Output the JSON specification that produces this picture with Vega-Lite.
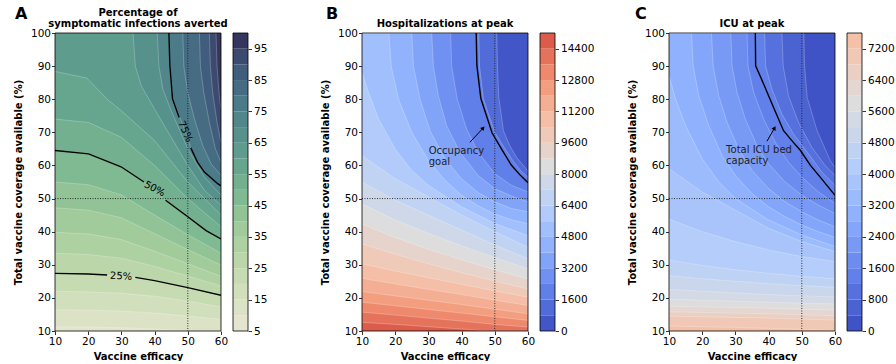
{
"$schema":"https://vega.github.io/schema/vega-lite/v6.json",
"padding":{"left":0,"top":6,"right":0,"bottom":0},
"bounds":"flush",
"spacing":12,
"resolve":{"scale":{"color":"independent","x":"independent","y":"independent"}},
"config":{
 "font":"DejaVu Sans",
 "view":{"stroke":null},
 "axis":{"labelFontSize":10.5,"labelColor":"#000","tickColor":"#000","tickSize":3.5,"tickWidth":0.8,"domain":false,"grid":false,"titleFontSize":10,"titleFontWeight":"bold","titleColor":"#000","labelFont":"DejaVu Sans","titleFont":"DejaVu Sans","labelOverlap":false,"labelFlush":false,"format":"d","tickCount":30},
 "title":{"fontSize":10,"fontWeight":"bold","color":"#000","font":"DejaVu Sans"}
},
"datasets":{
 "A_lines":[
  {"lev":5,"x":10,"y":10},{"lev":5,"x":60,"y":10},
  {"lev":10,"x":10,"y":11.3},{"lev":10,"x":20,"y":11.2},{"lev":10,"x":30,"y":11},{"lev":10,"x":40,"y":10.6},{"lev":10,"x":50,"y":10.2},{"lev":10,"x":60,"y":10.05},
  {"lev":15,"x":10,"y":16.4},{"lev":15,"x":20,"y":16.3},{"lev":15,"x":30,"y":16},{"lev":15,"x":40,"y":15.4},{"lev":15,"x":50,"y":14.5},{"lev":15,"x":60,"y":13.5},
  {"lev":20,"x":10,"y":22},{"lev":20,"x":20,"y":21.8},{"lev":20,"x":30,"y":21.4},{"lev":20,"x":40,"y":20.5},{"lev":20,"x":50,"y":19},{"lev":20,"x":60,"y":17.3},
  {"lev":25,"x":10,"y":27.4},{"lev":25,"x":20,"y":27.2},{"lev":25,"x":30,"y":26.6},{"lev":25,"x":40,"y":25.2},{"lev":25,"x":50,"y":23.1},{"lev":25,"x":60,"y":20.8},
  {"lev":30,"x":10,"y":33.5},{"lev":30,"x":20,"y":33.1},{"lev":30,"x":30,"y":32},{"lev":30,"x":40,"y":29.5},{"lev":30,"x":50,"y":26.6},{"lev":30,"x":60,"y":23.6},
  {"lev":35,"x":10,"y":39.8},{"lev":35,"x":20,"y":39.3},{"lev":35,"x":30,"y":37.6},{"lev":35,"x":40,"y":34.1},{"lev":35,"x":50,"y":30.3},{"lev":35,"x":60,"y":26.5},
  {"lev":40,"x":10,"y":47.2},{"lev":40,"x":20,"y":46.5},{"lev":40,"x":30,"y":44.2},{"lev":40,"x":40,"y":39.4},{"lev":40,"x":50,"y":34.6},{"lev":40,"x":60,"y":29.9},
  {"lev":45,"x":10,"y":55},{"lev":45,"x":20,"y":54.2},{"lev":45,"x":30,"y":51.1},{"lev":45,"x":40,"y":45},{"lev":45,"x":50,"y":39.1},{"lev":45,"x":60,"y":33.5},
  {"lev":50,"x":10,"y":64.5},{"lev":50,"x":20.1,"y":63.5},{"lev":50,"x":29.9,"y":59.6},{"lev":50,"x":36.8,"y":55},{"lev":50,"x":43.3,"y":49.5},{"lev":50,"x":50,"y":44.5},{"lev":50,"x":55.5,"y":40.3},{"lev":50,"x":60,"y":37.8},
  {"lev":55,"x":10,"y":74},{"lev":55,"x":20,"y":73},{"lev":55,"x":30,"y":68.5},{"lev":55,"x":40,"y":60},{"lev":55,"x":50,"y":50},{"lev":55,"x":60,"y":41.5},
  {"lev":60,"x":10,"y":88.4},{"lev":60,"x":19.6,"y":86.4},{"lev":60,"x":25.7,"y":80},{"lev":60,"x":30,"y":76.5},{"lev":60,"x":40,"y":67.5},{"lev":60,"x":50,"y":55},{"lev":60,"x":60,"y":45},
  {"lev":65,"x":33.5,"y":100},{"lev":65,"x":34.2,"y":90},{"lev":65,"x":36,"y":84},{"lev":65,"x":40,"y":77},{"lev":65,"x":45,"y":68.5},{"lev":65,"x":50,"y":60},{"lev":65,"x":55,"y":52.5},{"lev":65,"x":60,"y":48},
  {"lev":70,"x":40.8,"y":100},{"lev":70,"x":41.3,"y":90},{"lev":70,"x":42.5,"y":83},{"lev":70,"x":45,"y":76.5},{"lev":70,"x":50,"y":65},{"lev":70,"x":55,"y":56.5},{"lev":70,"x":60,"y":51},
  {"lev":75,"x":44.3,"y":100},{"lev":75,"x":44.6,"y":90.2},{"lev":75,"x":45.4,"y":80.1},{"lev":75,"x":47.4,"y":75},{"lev":75,"x":49.2,"y":70.5},{"lev":75,"x":50.9,"y":65.3},{"lev":75,"x":52.9,"y":61},{"lev":75,"x":55,"y":58},{"lev":75,"x":59,"y":54.5},{"lev":75,"x":60,"y":53.8},
  {"lev":80,"x":48.5,"y":100},{"lev":80,"x":48.8,"y":90},{"lev":80,"x":50,"y":82},{"lev":80,"x":52,"y":74},{"lev":80,"x":54.5,"y":66},{"lev":80,"x":57,"y":60.5},{"lev":80,"x":60,"y":57},
  {"lev":85,"x":53.5,"y":100},{"lev":85,"x":53.8,"y":90},{"lev":85,"x":54.8,"y":82},{"lev":85,"x":56.5,"y":73},{"lev":85,"x":58.3,"y":65},{"lev":85,"x":60,"y":61},
  {"lev":90,"x":56.5,"y":100},{"lev":90,"x":56.8,"y":90},{"lev":90,"x":57.5,"y":82},{"lev":90,"x":58.8,"y":73},{"lev":90,"x":60,"y":67},
  {"lev":95,"x":58.5,"y":100},{"lev":95,"x":58.8,"y":90},{"lev":95,"x":59.4,"y":82},{"lev":95,"x":60,"y":77}
 ],
 "A_black":[
  {"seg":"a1","x":10,"y":27.4},{"seg":"a1","x":20,"y":27.2},{"seg":"a1","x":25.7,"y":26.9},
  {"seg":"a2","x":34.2,"y":26.2},{"seg":"a2","x":40,"y":25.2},{"seg":"a2","x":50,"y":23.1},{"seg":"a2","x":60,"y":20.8},
  {"seg":"b1","x":10,"y":64.5},{"seg":"b1","x":20.1,"y":63.5},{"seg":"b1","x":29.9,"y":59.6},{"seg":"b1","x":36.8,"y":55},
  {"seg":"b2","x":43.3,"y":49.5},{"seg":"b2","x":50,"y":44.5},{"seg":"b2","x":55.5,"y":40.3},{"seg":"b2","x":60,"y":37.8},
  {"seg":"c1","x":44.3,"y":100},{"seg":"c1","x":44.6,"y":90.2},{"seg":"c1","x":45.4,"y":80.1},{"seg":"c1","x":47.4,"y":74.5},
  {"seg":"c2","x":50.9,"y":65.3},{"seg":"c2","x":52.9,"y":61},{"seg":"c2","x":55,"y":58},{"seg":"c2","x":59,"y":54.5},{"seg":"c2","x":60,"y":53.8}
 ],
 "A_lab":[{"t":"25%","x":29.9,"y":26.5},{"t":"50%","x":40,"y":52.9},{"t":"75%","x":49.2,"y":70.2}],
 "A_cb":[
  {"lo":5,"hi":10},{"lo":10,"hi":15},{"lo":15,"hi":20},{"lo":20,"hi":25},{"lo":25,"hi":30},{"lo":30,"hi":35},{"lo":35,"hi":40},{"lo":40,"hi":45},{"lo":45,"hi":50},{"lo":50,"hi":55},
  {"lo":55,"hi":60},{"lo":60,"hi":65},{"lo":65,"hi":70},{"lo":70,"hi":75},{"lo":75,"hi":80},{"lo":80,"hi":85},{"lo":85,"hi":90},{"lo":90,"hi":95},{"lo":95,"hi":100}
 ],
 "B_lines":[
  {"lev":0,"x":10,"y":100},{"lev":0,"x":60,"y":100},
  {"lev":800,"x":10,"y":100},{"lev":800,"x":50.6,"y":100},{"lev":800,"x":50.8,"y":90},{"lev":800,"x":51.2,"y":80.6},{"lev":800,"x":52.6,"y":70.5},{"lev":800,"x":54.5,"y":66},{"lev":800,"x":56.6,"y":62.4},{"lev":800,"x":60,"y":58.3},
  {"lev":1600,"x":10,"y":100},{"lev":1600,"x":45.2,"y":100},{"lev":1600,"x":45.4,"y":90},{"lev":1600,"x":46.6,"y":80},{"lev":1600,"x":48.3,"y":75},{"lev":1600,"x":50,"y":70},{"lev":1600,"x":52.8,"y":65.5},{"lev":1600,"x":55.6,"y":61.2},{"lev":1600,"x":58,"y":58.2},{"lev":1600,"x":60,"y":56.5},
  {"lev":2400,"x":10,"y":100},{"lev":2400,"x":36.7,"y":100},{"lev":2400,"x":37,"y":90},{"lev":2400,"x":38.7,"y":80},{"lev":2400,"x":41.5,"y":71},{"lev":2400,"x":45,"y":64},{"lev":2400,"x":50,"y":57.5},{"lev":2400,"x":55,"y":54},{"lev":2400,"x":60,"y":52},
  {"lev":3200,"x":10,"y":100},{"lev":3200,"x":31,"y":100},{"lev":3200,"x":31.5,"y":90},{"lev":3200,"x":33,"y":81},{"lev":3200,"x":35.5,"y":72},{"lev":3200,"x":39.5,"y":64},{"lev":3200,"x":45,"y":57},{"lev":3200,"x":50,"y":53},{"lev":3200,"x":55,"y":50.8},{"lev":3200,"x":60,"y":49},
  {"lev":4000,"x":10,"y":100},{"lev":4000,"x":25,"y":100},{"lev":4000,"x":25.5,"y":90},{"lev":4000,"x":27.5,"y":80},{"lev":4000,"x":30.5,"y":70.5},{"lev":4000,"x":35,"y":62},{"lev":4000,"x":40,"y":56},{"lev":4000,"x":45,"y":51.8},{"lev":4000,"x":50,"y":49},{"lev":4000,"x":55,"y":47},{"lev":4000,"x":60,"y":46},
  {"lev":4800,"x":10,"y":100},{"lev":4800,"x":18.1,"y":100},{"lev":4800,"x":18.8,"y":90},{"lev":4800,"x":21,"y":80},{"lev":4800,"x":25,"y":70},{"lev":4800,"x":30,"y":61.5},{"lev":4800,"x":35,"y":55.5},{"lev":4800,"x":40,"y":51},{"lev":4800,"x":45,"y":47.8},{"lev":4800,"x":50,"y":45.3},{"lev":4800,"x":55,"y":43.6},{"lev":4800,"x":60,"y":42.4},
  {"lev":5600,"x":10,"y":88},{"lev":5600,"x":12,"y":82},{"lev":5600,"x":15,"y":74},{"lev":5600,"x":20,"y":65},{"lev":5600,"x":25,"y":58.5},{"lev":5600,"x":30,"y":54},{"lev":5600,"x":40,"y":47.5},{"lev":5600,"x":50,"y":42.5},{"lev":5600,"x":60,"y":38.8},
  {"lev":6400,"x":10,"y":63},{"lev":6400,"x":20,"y":56},{"lev":6400,"x":30,"y":50.5},{"lev":6400,"x":40,"y":45},{"lev":6400,"x":50,"y":40},{"lev":6400,"x":60,"y":35.3},
  {"lev":7200,"x":10,"y":55},{"lev":7200,"x":20,"y":49.5},{"lev":7200,"x":30,"y":45},{"lev":7200,"x":40,"y":40.5},{"lev":7200,"x":50,"y":36},{"lev":7200,"x":60,"y":31.8},
  {"lev":8000,"x":10,"y":48.4},{"lev":8000,"x":20,"y":43.5},{"lev":8000,"x":30,"y":39.5},{"lev":8000,"x":40,"y":35.7},{"lev":8000,"x":50,"y":32.2},{"lev":8000,"x":60,"y":28.8},
  {"lev":8800,"x":10,"y":42.3},{"lev":8800,"x":20,"y":38.2},{"lev":8800,"x":30,"y":34.7},{"lev":8800,"x":40,"y":31.5},{"lev":8800,"x":50,"y":28.5},{"lev":8800,"x":60,"y":25.7},
  {"lev":9600,"x":10,"y":36.3},{"lev":9600,"x":20,"y":33.2},{"lev":9600,"x":30,"y":30.3},{"lev":9600,"x":40,"y":27.6},{"lev":9600,"x":50,"y":25.1},{"lev":9600,"x":60,"y":22.7},
  {"lev":10400,"x":10,"y":30.3},{"lev":10400,"x":20,"y":28.1},{"lev":10400,"x":30,"y":26.1},{"lev":10400,"x":40,"y":24.1},{"lev":10400,"x":50,"y":22.1},{"lev":10400,"x":60,"y":20.2},
  {"lev":11200,"x":10,"y":25.9},{"lev":11200,"x":20,"y":24.2},{"lev":11200,"x":30,"y":22.6},{"lev":11200,"x":40,"y":21},{"lev":11200,"x":50,"y":19.3},{"lev":11200,"x":60,"y":17.7},
  {"lev":12000,"x":10,"y":21.9},{"lev":12000,"x":20,"y":20.6},{"lev":12000,"x":30,"y":19.3},{"lev":12000,"x":40,"y":18},{"lev":12000,"x":50,"y":16.6},{"lev":12000,"x":60,"y":15.2},
  {"lev":12800,"x":10,"y":18.7},{"lev":12800,"x":20,"y":17.6},{"lev":12800,"x":30,"y":16.5},{"lev":12800,"x":40,"y":15.4},{"lev":12800,"x":50,"y":14.3},{"lev":12800,"x":60,"y":13.2},
  {"lev":13600,"x":10,"y":15.7},{"lev":13600,"x":20,"y":14.8},{"lev":13600,"x":30,"y":13.9},{"lev":13600,"x":40,"y":13},{"lev":13600,"x":50,"y":12},{"lev":13600,"x":60,"y":11.2},
  {"lev":14400,"x":10,"y":12.6},{"lev":14400,"x":20,"y":12},{"lev":14400,"x":30,"y":11.3},{"lev":14400,"x":40,"y":10.6},{"lev":14400,"x":48,"y":10},{"lev":14400,"x":60,"y":10}
 ],
 "B_black":[{"x":44.4,"y":100},{"x":44.6,"y":90.2},{"x":45.8,"y":80.2},{"x":47.5,"y":75},{"x":49.2,"y":69.8},{"x":52,"y":65},{"x":54.9,"y":60.2},{"x":57.7,"y":57},{"x":60,"y":54.8}],
 "B_note":[{"t":"Occupancy\ngoal","x":30.1,"y":66}],
 "B_arrow":[{"tx":42.5,"ty":67,"hx":46.5,"hy":71.3}],
 "B_cb":[
  {"lo":0,"hi":800},{"lo":800,"hi":1600},{"lo":1600,"hi":2400},{"lo":2400,"hi":3200},{"lo":3200,"hi":4000},{"lo":4000,"hi":4800},{"lo":4800,"hi":5600},{"lo":5600,"hi":6400},{"lo":6400,"hi":7200},{"lo":7200,"hi":8000},
  {"lo":8000,"hi":8800},{"lo":8800,"hi":9600},{"lo":9600,"hi":10400},{"lo":10400,"hi":11200},{"lo":11200,"hi":12000},{"lo":12000,"hi":12800},{"lo":12800,"hi":13600},{"lo":13600,"hi":14400},{"lo":14400,"hi":15200}
 ],
 "C_lines":[
  {"lev":0,"x":10,"y":100},{"lev":0,"x":60,"y":100},
  {"lev":400,"x":10,"y":100},{"lev":400,"x":50.6,"y":100},{"lev":400,"x":50.8,"y":90.6},{"lev":400,"x":51.6,"y":80.6},{"lev":400,"x":54.6,"y":70.5},{"lev":400,"x":58.6,"y":61.4},{"lev":400,"x":60,"y":59.4},
  {"lev":800,"x":10,"y":100},{"lev":800,"x":44,"y":100},{"lev":800,"x":44.4,"y":90},{"lev":800,"x":46,"y":81},{"lev":800,"x":49,"y":73},{"lev":800,"x":53,"y":65.5},{"lev":800,"x":57,"y":60},{"lev":800,"x":60,"y":57},
  {"lev":1200,"x":10,"y":100},{"lev":1200,"x":38.8,"y":100},{"lev":1200,"x":39.1,"y":90},{"lev":1200,"x":41,"y":83},{"lev":1200,"x":44,"y":75.5},{"lev":1200,"x":47.5,"y":69.5},{"lev":1200,"x":52,"y":63.5},{"lev":1200,"x":56,"y":58},{"lev":1200,"x":60,"y":54},
  {"lev":1600,"x":10,"y":100},{"lev":1600,"x":33.5,"y":100},{"lev":1600,"x":33.8,"y":90},{"lev":1600,"x":35.5,"y":82},{"lev":1600,"x":38.5,"y":74},{"lev":1600,"x":42,"y":67},{"lev":1600,"x":46,"y":61},{"lev":1600,"x":50,"y":56.5},{"lev":1600,"x":55,"y":52},{"lev":1600,"x":60,"y":48.5},
  {"lev":2000,"x":10,"y":100},{"lev":2000,"x":28.6,"y":100},{"lev":2000,"x":29,"y":90},{"lev":2000,"x":30.5,"y":82},{"lev":2000,"x":33,"y":74},{"lev":2000,"x":36.5,"y":66},{"lev":2000,"x":40,"y":60.5},{"lev":2000,"x":45,"y":55},{"lev":2000,"x":50,"y":51},{"lev":2000,"x":55,"y":48},{"lev":2000,"x":60,"y":45.5},
  {"lev":2400,"x":10,"y":100},{"lev":2400,"x":22.8,"y":100},{"lev":2400,"x":23.3,"y":90},{"lev":2400,"x":25,"y":81},{"lev":2400,"x":27.5,"y":73},{"lev":2400,"x":31,"y":65},{"lev":2400,"x":35,"y":58.5},{"lev":2400,"x":40,"y":53},{"lev":2400,"x":45,"y":49},{"lev":2400,"x":50,"y":46},{"lev":2400,"x":55,"y":43.5},{"lev":2400,"x":60,"y":41.5},
  {"lev":2800,"x":10,"y":100},{"lev":2800,"x":16.8,"y":100},{"lev":2800,"x":17.3,"y":90},{"lev":2800,"x":19,"y":81},{"lev":2800,"x":22,"y":72},{"lev":2800,"x":26,"y":63},{"lev":2800,"x":30,"y":57},{"lev":2800,"x":35,"y":51.5},{"lev":2800,"x":40,"y":47.5},{"lev":2800,"x":45,"y":44.5},{"lev":2800,"x":50,"y":42},{"lev":2800,"x":55,"y":40},{"lev":2800,"x":60,"y":38.3},
  {"lev":3200,"x":10,"y":87},{"lev":3200,"x":12,"y":80},{"lev":3200,"x":15,"y":72},{"lev":3200,"x":20,"y":62},{"lev":3200,"x":25,"y":55},{"lev":3200,"x":30,"y":50},{"lev":3200,"x":40,"y":43.5},{"lev":3200,"x":50,"y":39},{"lev":3200,"x":60,"y":35.5},
  {"lev":3600,"x":10,"y":59},{"lev":3600,"x":20,"y":52},{"lev":3600,"x":30,"y":46.5},{"lev":3600,"x":40,"y":41},{"lev":3600,"x":50,"y":37},{"lev":3600,"x":60,"y":34},
  {"lev":4000,"x":10,"y":43.8},{"lev":4000,"x":20,"y":40},{"lev":4000,"x":30,"y":37},{"lev":4000,"x":40,"y":34.5},{"lev":4000,"x":50,"y":32.5},{"lev":4000,"x":60,"y":31},
  {"lev":4400,"x":10,"y":31.4},{"lev":4400,"x":20,"y":29.8},{"lev":4400,"x":30,"y":28.5},{"lev":4400,"x":40,"y":27.4},{"lev":4400,"x":50,"y":26.5},{"lev":4400,"x":60,"y":25.8},
  {"lev":4800,"x":10,"y":26.7},{"lev":4800,"x":20,"y":25.8},{"lev":4800,"x":30,"y":25},{"lev":4800,"x":40,"y":24.3},{"lev":4800,"x":50,"y":23.7},{"lev":4800,"x":60,"y":23.2},
  {"lev":5200,"x":10,"y":22.6},{"lev":5200,"x":20,"y":22},{"lev":5200,"x":30,"y":21.5},{"lev":5200,"x":40,"y":21},{"lev":5200,"x":50,"y":20.6},{"lev":5200,"x":60,"y":20.3},
  {"lev":5600,"x":10,"y":19.6},{"lev":5600,"x":20,"y":19.3},{"lev":5600,"x":30,"y":19},{"lev":5600,"x":40,"y":18.7},{"lev":5600,"x":50,"y":18.4},{"lev":5600,"x":60,"y":18.2},
  {"lev":6000,"x":10,"y":17.5},{"lev":6000,"x":20,"y":17.3},{"lev":6000,"x":30,"y":17.1},{"lev":6000,"x":40,"y":16.9},{"lev":6000,"x":50,"y":16.6},{"lev":6000,"x":60,"y":16.3},
  {"lev":6400,"x":10,"y":15.8},{"lev":6400,"x":20,"y":15.6},{"lev":6400,"x":30,"y":15.4},{"lev":6400,"x":40,"y":15.2},{"lev":6400,"x":50,"y":14.9},{"lev":6400,"x":60,"y":14.6},
  {"lev":6800,"x":10,"y":14.5},{"lev":6800,"x":20,"y":14.3},{"lev":6800,"x":30,"y":14.1},{"lev":6800,"x":40,"y":13.9},{"lev":6800,"x":50,"y":13.6},{"lev":6800,"x":60,"y":13.3},
  {"lev":7200,"x":10,"y":11.5},{"lev":7200,"x":20,"y":11.3},{"lev":7200,"x":30,"y":11.1},{"lev":7200,"x":40,"y":10.8},{"lev":7200,"x":50,"y":10.5},{"lev":7200,"x":60,"y":10.2}
 ],
 "C_black":[{"x":36,"y":100},{"x":36.1,"y":90.1},{"x":38.5,"y":84.6},{"x":41.5,"y":77.5},{"x":44.5,"y":70.5},{"x":47,"y":67.5},{"x":49.6,"y":64.5},{"x":50.6,"y":63},{"x":52.6,"y":60},{"x":55.6,"y":56.4},{"x":60,"y":51}],
 "C_note":[{"t":"Total ICU bed\ncapacity","x":27.2,"y":66.2}],
 "C_arrow":[{"tx":39.5,"ty":67.3,"hx":41.8,"hy":71.3}],
 "C_cb":[
  {"lo":0,"hi":400},{"lo":400,"hi":800},{"lo":800,"hi":1200},{"lo":1200,"hi":1600},{"lo":1600,"hi":2000},{"lo":2000,"hi":2400},{"lo":2400,"hi":2800},{"lo":2800,"hi":3200},{"lo":3200,"hi":3600},{"lo":3600,"hi":4000},
  {"lo":4000,"hi":4400},{"lo":4400,"hi":4800},{"lo":4800,"hi":5200},{"lo":5200,"hi":5600},{"lo":5600,"hi":6000},{"lo":6000,"hi":6400},{"lo":6400,"hi":6800},{"lo":6800,"hi":7200},{"lo":7200,"hi":7600}
 ]
},
"hconcat":[
 {"width":43,"height":298,"title":{"text":"A","fontSize":16,"anchor":"start","dx":15,"offset":11},"data":{"values":[{}]},"mark":{"type":"point","opacity":0},"encoding":{}},
 {"width":166,"height":298,
  "title":{"text":["Percentage of","symptomatic infections averted"],"offset":-1,"lineHeight":11.5},
  "layer":[
   {"data":{"name":"A_lines"},"mark":{"type":"area","clip":true,"orient":"vertical"},
    "encoding":{
     "x":{"field":"x","type":"quantitative","scale":{"domain":[10,60],"nice":false,"zero":false},"axis":{"values":[10,20,30,40,50,60],"title":"Vaccine efficacy","labelPadding":2,"titlePadding":4}},
     "y":{"field":"y","type":"quantitative","stack":null,"scale":{"domain":[10,100],"nice":false,"zero":false},"axis":{"values":[10,20,30,40,50,60,70,80,90,100],"title":"Total vaccine coverage available (%)","labelPadding":1,"titlePadding":7}},
     "y2":{"datum":100},
     "color":{"field":"lev","type":"quantitative","legend":null,"scale":{"type":"linear","interpolate":"rgb","domain":[5,15,25,35,45,55,65,75,85,95],"range":["#e4e4cf","#d2dfbd","#bbd6a8","#a1cb9b","#80ba92","#66a68e","#56918c","#4b7a88","#415d7d","#35365e"]}},
     "detail":{"field":"lev"}
    }},
   {"data":{"name":"A_lines"},"transform":[{"filter":"datum.lev > 5"}],"mark":{"type":"line","clip":true,"color":"#ffffff","strokeWidth":0.6,"opacity":0.4},"encoding":{"x":{"field":"x","type":"quantitative"},"y":{"field":"y","type":"quantitative"},"detail":{"field":"lev"}}},
   {"data":{"name":"A_black"},"mark":{"type":"line","clip":true,"color":"#000","strokeWidth":1.4},"encoding":{"x":{"field":"x","type":"quantitative"},"y":{"field":"y","type":"quantitative"},"detail":{"field":"seg"}}},
   {"data":{"name":"A_lab"},"transform":[{"filter":"datum.t == '25%'"}],"mark":{"type":"text","fontSize":10,"angle":3},"encoding":{"x":{"field":"x","type":"quantitative"},"y":{"field":"y","type":"quantitative"},"text":{"field":"t"}}},
   {"data":{"name":"A_lab"},"transform":[{"filter":"datum.t == '50%'"}],"mark":{"type":"text","fontSize":10,"angle":28},"encoding":{"x":{"field":"x","type":"quantitative"},"y":{"field":"y","type":"quantitative"},"text":{"field":"t"}}},
   {"data":{"name":"A_lab"},"transform":[{"filter":"datum.t == '75%'"}],"mark":{"type":"text","fontSize":10,"angle":66},"encoding":{"x":{"field":"x","type":"quantitative"},"y":{"field":"y","type":"quantitative"},"text":{"field":"t"}}},
   {"data":{"values":[{}]},"mark":{"type":"rule","strokeDash":[1,1.5],"strokeWidth":0.9,"color":"#222"},"encoding":{"x":{"datum":50}}},
   {"data":{"values":[{}]},"mark":{"type":"rule","strokeDash":[1,1.5],"strokeWidth":0.9,"color":"#222"},"encoding":{"y":{"datum":50}}},
   {"data":{"values":[{}]},"mark":{"type":"rect","filled":false,"stroke":"#000","strokeWidth":0.8},"encoding":{"x":{"datum":10},"x2":{"datum":60},"y":{"datum":10},"y2":{"datum":100}}}
  ]},
 {"width":15,"height":298,"data":{"name":"A_cb"},
  "layer":[
   {"mark":{"type":"rect"},"encoding":{
     "y":{"field":"lo","type":"quantitative","scale":{"domain":[5,100],"nice":false,"zero":false},"axis":{"orient":"right","values":[5,15,25,35,45,55,65,75,85,95],"title":null,"labelPadding":2}},
     "y2":{"field":"hi"},
     "color":{"field":"lo","type":"quantitative","legend":null,"scale":{"type":"linear","interpolate":"rgb","domain":[5,15,25,35,45,55,65,75,85,95],"range":["#e4e4cf","#d2dfbd","#bbd6a8","#a1cb9b","#80ba92","#66a68e","#56918c","#4b7a88","#415d7d","#35365e"]}}}},
   {"data":{"values":[{}]},"mark":{"type":"rect","filled":false,"stroke":"#000","strokeWidth":0.8},"encoding":{"y":{"datum":5},"y2":{"datum":100}}}
  ]},
 {"width":90,"height":298,"title":{"text":"B","fontSize":16,"anchor":"start","dx":66,"offset":11},"data":{"values":[{}]},"mark":{"type":"point","opacity":0},"encoding":{}},
 {"width":166,"height":298,
  "title":{"text":"Hospitalizations at peak","offset":-1},
  "layer":[
   {"data":{"name":"B_lines"},"mark":{"type":"area","clip":true,"orient":"vertical"},
    "encoding":{
     "x":{"field":"x","type":"quantitative","scale":{"domain":[10,60],"nice":false,"zero":false},"axis":{"values":[10,20,30,40,50,60],"title":"Vaccine efficacy","labelPadding":2,"titlePadding":4}},
     "y":{"field":"y","type":"quantitative","stack":null,"scale":{"domain":[10,100],"nice":false,"zero":false},"axis":{"values":[10,20,30,40,50,60,70,80,90,100],"title":"Total vaccine coverage available (%)","labelPadding":1,"titlePadding":7}},
     "y2":{"datum":10},
     "color":{"field":"lev","type":"quantitative","legend":null,"scale":{"type":"linear","interpolate":"rgb","domain":[-400,1700,3800,5900,8000,10100,12200,14300,16400],"range":["#3b4cc0","#6282ea","#8db0fe","#b8d0f9","#dddddd","#f5c4ad","#f49a7b","#de604d","#b40426"]}},
     "detail":{"field":"lev"}
    }},
   {"data":{"name":"B_lines"},"transform":[{"filter":"datum.lev > 0"}],"mark":{"type":"line","clip":true,"color":"#ffffff","strokeWidth":0.6,"opacity":0.4},"encoding":{"x":{"field":"x","type":"quantitative"},"y":{"field":"y","type":"quantitative"},"detail":{"field":"lev"}}},
   {"data":{"name":"B_black"},"mark":{"type":"line","clip":true,"color":"#000","strokeWidth":1.4},"encoding":{"x":{"field":"x","type":"quantitative"},"y":{"field":"y","type":"quantitative"}}},
   {"data":{"name":"B_note"},"mark":{"type":"text","fontSize":10,"align":"left","baseline":"top","lineBreak":"\n","lineHeight":11.5,"color":"#222"},"encoding":{"x":{"field":"x","type":"quantitative"},"y":{"field":"y","type":"quantitative"},"text":{"field":"t"}}},
   {"data":{"name":"B_arrow"},"mark":{"type":"rule","color":"#000","strokeWidth":1},"encoding":{"x":{"field":"tx","type":"quantitative"},"y":{"field":"ty","type":"quantitative"},"x2":{"field":"hx"},"y2":{"field":"hy"}}},
   {"data":{"name":"B_arrow"},"mark":{"type":"point","shape":"triangle-up","filled":true,"color":"#000","size":22,"angle":43,"opacity":1},"encoding":{"x":{"field":"hx","type":"quantitative"},"y":{"field":"hy","type":"quantitative"}}},
   {"data":{"values":[{}]},"mark":{"type":"rule","strokeDash":[1,1.5],"strokeWidth":0.9,"color":"#222"},"encoding":{"x":{"datum":50}}},
   {"data":{"values":[{}]},"mark":{"type":"rule","strokeDash":[1,1.5],"strokeWidth":0.9,"color":"#222"},"encoding":{"y":{"datum":50}}},
   {"data":{"values":[{}]},"mark":{"type":"rect","filled":false,"stroke":"#000","strokeWidth":0.8},"encoding":{"x":{"datum":10},"x2":{"datum":60},"y":{"datum":10},"y2":{"datum":100}}}
  ]},
 {"width":15,"height":298,"data":{"name":"B_cb"},
  "layer":[
   {"mark":{"type":"rect"},"encoding":{
     "y":{"field":"lo","type":"quantitative","scale":{"domain":[0,15200],"nice":false,"zero":false},"axis":{"orient":"right","values":[0,1600,3200,4800,6400,8000,9600,11200,12800,14400],"title":null,"labelPadding":2}},
     "y2":{"field":"hi"},
     "color":{"field":"lo","type":"quantitative","legend":null,"scale":{"type":"linear","interpolate":"rgb","domain":[-400,1700,3800,5900,8000,10100,12200,14300,16400],"range":["#3b4cc0","#6282ea","#8db0fe","#b8d0f9","#dddddd","#f5c4ad","#f49a7b","#de604d","#b40426"]}}}},
   {"data":{"values":[{}]},"mark":{"type":"rect","filled":false,"stroke":"#000","strokeWidth":0.8},"encoding":{"y":{"datum":0},"y2":{"datum":15200}}}
  ]},
 {"width":90,"height":298,"title":{"text":"C","fontSize":16,"anchor":"start","dx":68,"offset":11},"data":{"values":[{}]},"mark":{"type":"point","opacity":0},"encoding":{}},
 {"width":166,"height":298,
  "title":{"text":"ICU at peak","offset":-1},
  "layer":[
   {"data":{"name":"C_lines"},"mark":{"type":"area","clip":true,"orient":"vertical"},
    "encoding":{
     "x":{"field":"x","type":"quantitative","scale":{"domain":[10,60],"nice":false,"zero":false},"axis":{"values":[10,20,30,40,50,60],"title":"Vaccine efficacy","labelPadding":2,"titlePadding":4}},
     "y":{"field":"y","type":"quantitative","stack":null,"scale":{"domain":[10,100],"nice":false,"zero":false},"axis":{"values":[10,20,30,40,50,60,70,80,90,100],"title":"Total vaccine coverage available (%)","labelPadding":1,"titlePadding":7}},
     "y2":{"datum":10},
     "color":{"field":"lev","type":"quantitative","legend":null,"scale":{"type":"linear","interpolate":"rgb","domain":[-200,1250,2700,4150,5600,7050,8500,9950,11400],"range":["#3b4cc0","#6282ea","#8db0fe","#b8d0f9","#dddddd","#f5c4ad","#f49a7b","#de604d","#b40426"]}},
     "detail":{"field":"lev"}
    }},
   {"data":{"name":"C_lines"},"transform":[{"filter":"datum.lev > 0"}],"mark":{"type":"line","clip":true,"color":"#ffffff","strokeWidth":0.6,"opacity":0.4},"encoding":{"x":{"field":"x","type":"quantitative"},"y":{"field":"y","type":"quantitative"},"detail":{"field":"lev"}}},
   {"data":{"name":"C_black"},"mark":{"type":"line","clip":true,"color":"#000","strokeWidth":1.4},"encoding":{"x":{"field":"x","type":"quantitative"},"y":{"field":"y","type":"quantitative"}}},
   {"data":{"name":"C_note"},"mark":{"type":"text","fontSize":10,"align":"left","baseline":"top","lineBreak":"\n","lineHeight":11.5,"color":"#222"},"encoding":{"x":{"field":"x","type":"quantitative"},"y":{"field":"y","type":"quantitative"},"text":{"field":"t"}}},
   {"data":{"name":"C_arrow"},"mark":{"type":"rule","color":"#000","strokeWidth":1},"encoding":{"x":{"field":"tx","type":"quantitative"},"y":{"field":"ty","type":"quantitative"},"x2":{"field":"hx"},"y2":{"field":"hy"}}},
   {"data":{"name":"C_arrow"},"mark":{"type":"point","shape":"triangle-up","filled":true,"color":"#000","size":22,"angle":30,"opacity":1},"encoding":{"x":{"field":"hx","type":"quantitative"},"y":{"field":"hy","type":"quantitative"}}},
   {"data":{"values":[{}]},"mark":{"type":"rule","strokeDash":[1,1.5],"strokeWidth":0.9,"color":"#222"},"encoding":{"x":{"datum":50}}},
   {"data":{"values":[{}]},"mark":{"type":"rule","strokeDash":[1,1.5],"strokeWidth":0.9,"color":"#222"},"encoding":{"y":{"datum":50}}},
   {"data":{"values":[{}]},"mark":{"type":"rect","filled":false,"stroke":"#000","strokeWidth":0.8},"encoding":{"x":{"datum":10},"x2":{"datum":60},"y":{"datum":10},"y2":{"datum":100}}}
  ]},
 {"width":15,"height":298,"data":{"name":"C_cb"},
  "layer":[
   {"mark":{"type":"rect"},"encoding":{
     "y":{"field":"lo","type":"quantitative","scale":{"domain":[0,7600],"nice":false,"zero":false},"axis":{"orient":"right","values":[0,800,1600,2400,3200,4000,4800,5600,6400,7200],"title":null,"labelPadding":2}},
     "y2":{"field":"hi"},
     "color":{"field":"lo","type":"quantitative","legend":null,"scale":{"type":"linear","interpolate":"rgb","domain":[-200,1250,2700,4150,5600,7050,8500,9950,11400],"range":["#3b4cc0","#6282ea","#8db0fe","#b8d0f9","#dddddd","#f5c4ad","#f49a7b","#de604d","#b40426"]}}}},
   {"data":{"values":[{}]},"mark":{"type":"rect","filled":false,"stroke":"#000","strokeWidth":0.8},"encoding":{"y":{"datum":0},"y2":{"datum":7600}}}
  ]}
]
}
